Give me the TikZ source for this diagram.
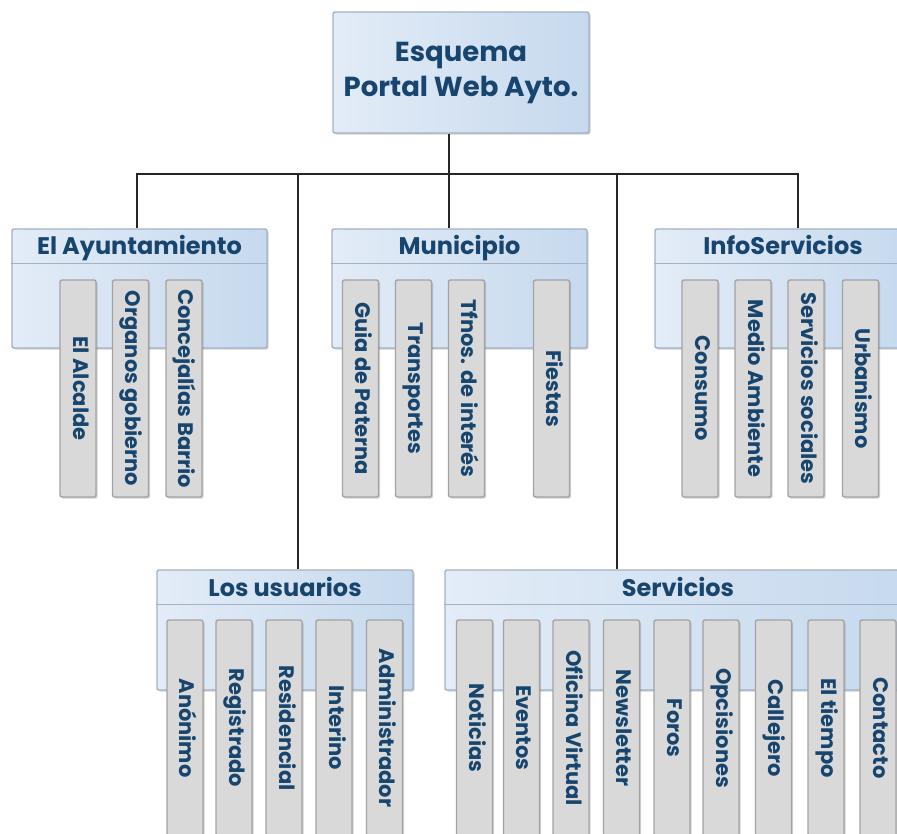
\documentclass[tikz,border=0pt]{standalone}
\usepackage{fontspec}
\usepackage{graphicx}
\setmainfont{Poppins}
\usetikzlibrary{calc,shadows}
\definecolor{txtblue}{HTML}{17456E}
\definecolor{boxL}{HTML}{E3ECF7}
\definecolor{boxR}{HTML}{C6D9EE}
\definecolor{boxline}{HTML}{A2B2C6}
\definecolor{barfill}{HTML}{D9D9D9}
\definecolor{barline}{HTML}{A3A3A3}
\tikzset{
  softshadow/.style={drop shadow={shadow xshift=1.5pt, shadow yshift=-1.5pt, opacity=.25, fill=black!70}},
  titlebox/.style={rectangle, draw=boxline, line width=1.4pt, rounded corners=2pt,
    left color=boxL, right color=boxR, softshadow, inner sep=0pt,
    text=txtblue, align=center, font=\bfseries\fontsize{27.5}{35}\selectfont},
  grp/.style={rectangle, draw=boxline, line width=1.4pt, rounded corners=2pt,
    left color=boxL, right color=boxR, softshadow, inner sep=0pt},
  hdrline/.style={draw=boxline, line width=1.4pt},
  hdrtext/.style={text=txtblue, inner sep=0pt, anchor=base, font=\bfseries\fontsize{24}{28}\selectfont},
  bar/.style={rectangle, draw=barline, line width=1.4pt, rounded corners=2pt,
    fill=barfill, softshadow, inner sep=0pt, minimum width=36pt,
    text=txtblue, font=\bfseries\fontsize{21}{24}\selectfont},
  upbar/.style={bar, minimum height=217pt},
  lowbar/.style={bar, minimum height=216pt},
  conn/.style={draw=black!85, line width=1.8pt}
}
\newcommand{\vt}[1]{\rotatebox{-90}{\strut #1}}
\begin{document}
\begin{tikzpicture}[x=1pt,y=-1pt]
\clip (0,0) rectangle (897,833);
\fill[white] (0,0) rectangle (897,833);

\coordinate (ha) at (137,174);
\coordinate (hb) at (298,174);
\coordinate (hc) at (449,174);
\coordinate (hd) at (617,174);
\coordinate (he) at (798,174);

% title
\node[titlebox, minimum width=256pt, minimum height=121pt] (title) at (461,72.5) {Esquema\\Portal Web Ayto.};

% upper groups
\node[grp, minimum width=255pt, minimum height=119pt] (ayto) at (139.5,288.5) {};
\node[grp, minimum width=255pt, minimum height=119pt] (muni) at (459.5,288.5) {};
\node[grp, minimum width=256pt, minimum height=119pt] (info) at (783,288.5) {};
% lower groups
\node[grp, minimum width=256pt, minimum height=120pt] (usu) at (285,630) {};
\node[grp, minimum width=466pt, minimum height=120pt] (serv) at (678,630) {};

\draw[conn] (title.south -| hc) -- (hc |- muni.north);
\draw[conn] (ha |- ayto.north) -- (ha) -- (he) -- (he |- info.north);
\draw[conn] (hb) -- (hb |- usu.north);
\draw[conn] (hd) -- (hd |- serv.north);

% header lines and texts
\foreach \g in {ayto,muni,info,usu,serv}{
  \draw[hdrline] ($(\g.north west)+(0,35)$) -- ($(\g.north east)+(0,35)$);
}
\node[hdrtext] (aytoT) at ($(ayto.north)+(0,26.5)$) {El Ayuntamiento};
\node[hdrtext] (muniT) at ($(muni.north)+(0,26.5)$) {Municipio};
\node[hdrtext] (infoT) at ($(info.north)+(0,26.5)$) {InfoServicios};
\node[hdrtext] (usuT) at ($(usu.north)+(0,27)$) {Los usuarios};
\node[hdrtext] (servT) at ($(serv.north)+(0,27)$) {Servicios};

% El Ayuntamiento bars
\node[upbar] (a1) at (78,388.5) {\vt{El Alcalde}};
\node[upbar] (a2) at (130.5,388.5) {\vt{Organos gobierno}};
\node[upbar] (a3) at (184,388.5) {\vt{Concejalías Barrio}};
% Municipio bars
\node[upbar] (m1) at (360.5,388.5) {\vt{Guia de Paterna}};
\node[upbar] (m2) at (413.5,388.5) {\vt{Transportes}};
\node[upbar] (m3) at (466.5,388.5) {\vt{Tfnos. de interés}};
\node[upbar] (m4) at (551.5,388.5) {\vt{Fiestas}};
% InfoServicios bars
\node[upbar] (i1) at (700,388.5) {\vt{Consumo}};
\node[upbar] (i2) at (753,388.5) {\vt{Medio Ambiente}};
\node[upbar] (i3) at (806,388.5) {\vt{Servicios sociales}};
\node[upbar] (i4) at (860.5,388.5) {\vt{Urbanismo}};
% Los usuarios bars
\node[lowbar] (u1) at (185,728) {\vt{Anónimo}};
\node[lowbar] (u2) at (234,728) {\vt{Registrado}};
\node[lowbar] (u3) at (284,728) {\vt{Residencial}};
\node[lowbar] (u4) at (334,728) {\vt{Interino}};
\node[lowbar] (u5) at (384.5,728) {\vt{Administrador}};
% Servicios bars
\node[lowbar] (s1) at (474.5,728) {\vt{Noticias}};
\node[lowbar] (s2) at (521.5,728) {\vt{Eventos}};
\node[lowbar] (s3) at (571,728) {\vt{Oficina Virtual}};
\node[lowbar] (s4) at (621.5,728) {\vt{Newsletter}};
\node[lowbar] (s5) at (672,728) {\vt{Foros}};
\node[lowbar] (s6) at (721,728) {\vt{Opcisiones}};
\node[lowbar] (s7) at (773.5,728) {\vt{Callejero}};
\node[lowbar] (s8) at (826,728) {\vt{El tiempo}};
\node[lowbar] (s9) at (878,728) {\vt{Contacto}};
\end{tikzpicture}
\end{document}
